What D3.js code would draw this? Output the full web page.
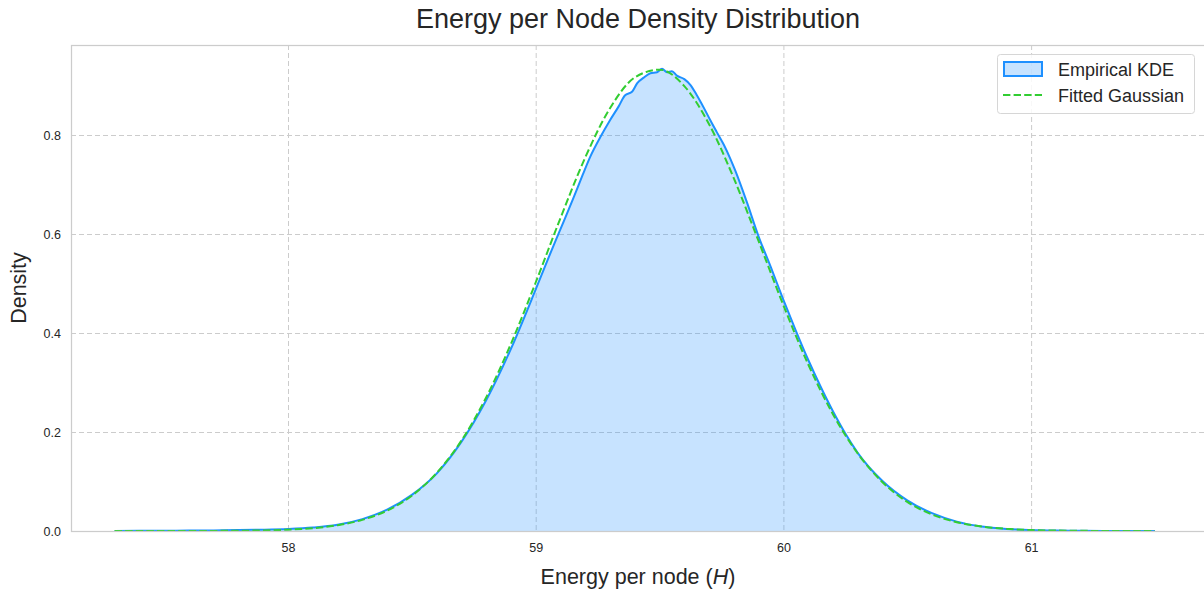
<!DOCTYPE html>
<html>
<head>
<meta charset="utf-8">
<script src="https://cdn.jsdelivr.net/npm/d3@7/dist/d3.min.js"></script>
<style>
  html, body { margin: 0; padding: 0; background: #ffffff; }
  svg { display: block; font-family: "Liberation Sans", Arial, "DejaVu Sans", sans-serif; }
</style>
</head>
<body>
<svg id="chart" width="1204" height="590"></svg>
<script>
// Empirical kernel density estimate of energy per node
const kdeX = [57.30, 57.40, 57.50, 57.60, 57.70, 57.80, 57.90, 58.00, 58.10, 58.20,
  58.30, 58.40, 58.50, 58.60, 58.70, 58.80, 58.90, 59.00, 59.05, 59.10,
  59.15, 59.19, 59.22, 59.26, 59.30, 59.335, 59.36, 59.39, 59.41, 59.436,
  59.463, 59.49, 59.51, 59.53, 59.55, 59.57, 59.60, 59.625, 59.65, 59.68,
  59.705, 59.73, 59.76, 59.785, 59.805, 59.85, 59.90, 59.95, 60.00, 60.05,
  60.10, 60.15, 60.20, 60.25, 60.30, 60.40, 60.50, 60.60, 60.70, 60.80,
  60.90, 61.00, 61.10, 61.20, 61.30, 61.40, 61.50];
const kdeY = [0.0000, 0.0003, 0.0005, 0.0008, 0.0012, 0.0018, 0.0027, 0.0042, 0.0070, 0.0125,
  0.0240, 0.0430, 0.0730, 0.1160, 0.1800, 0.2640, 0.3680, 0.4880, 0.5500, 0.6100,
  0.6700, 0.7200, 0.7560, 0.7950, 0.8300, 0.8580, 0.8800, 0.8880, 0.9050, 0.9160,
  0.9250, 0.9270, 0.9340, 0.9270, 0.9290, 0.9200, 0.9130, 0.9010, 0.8810, 0.8540,
  0.8300, 0.8070, 0.7800, 0.7530, 0.7290, 0.6680, 0.5950, 0.5320, 0.4670, 0.4050,
  0.3460, 0.2920, 0.2420, 0.1970, 0.1580, 0.1010, 0.0620, 0.0360, 0.0190, 0.0090,
  0.0042, 0.0020, 0.0009, 0.0004, 0.0002, 0.0001, 0.0000];

// Fitted normal curve, sampled on a regular grid
const fitX = [57.3, 57.4, 57.5, 57.6, 57.7, 57.8, 57.9, 58.0, 58.1, 58.2,
  58.3, 58.4, 58.5, 58.6, 58.7, 58.8, 58.9, 59.0, 59.1, 59.2,
  59.3, 59.4, 59.5, 59.6, 59.7, 59.8, 59.9, 60.0, 60.1, 60.2,
  60.3, 60.4, 60.5, 60.6, 60.7, 60.8, 60.9, 61.0, 61.1, 61.2,
  61.3, 61.4, 61.5];
const fitY = [0.0000, 0.0000, 0.0000, 0.0001, 0.0002, 0.0005, 0.0012, 0.0027, 0.0057, 0.0117,
  0.0225, 0.0411, 0.0713, 0.1172, 0.1826, 0.2699, 0.3781, 0.5021, 0.6323, 0.7547,
  0.8542, 0.9164, 0.9322, 0.8990, 0.8220, 0.7125, 0.5855, 0.4561, 0.3369, 0.2360,
  0.1567, 0.0986, 0.0588, 0.0333, 0.0178, 0.0091, 0.0044, 0.0020, 0.0009, 0.0004,
  0.0001, 0.0001, 0.0000];

const xTicks = [58, 59, 60, 61];
const yTicks = [0.0, 0.2, 0.4, 0.6, 0.8];
const seriesNames = ["Empirical KDE", "Fitted Gaussian"];

const W = 1204, H = 590;
const margin = { left: 71, right: 0, top: 45, bottom: 59 };
const svg = d3.select("#chart");

const x = d3.scaleLinear().domain([57.124, 61.698]).range([margin.left, W - margin.right]);
const y = d3.scaleLinear().domain([0, 0.982]).range([H - margin.bottom, margin.top]);

const kde = kdeX.map((v, i) => [v, kdeY[i]]);
const fit = fitX.map((v, i) => [v, fitY[i]]);

// grid
const grid = svg.append("g");
grid.selectAll("line.gx").data(xTicks).join("line")
  .attr("x1", d => x(d) + 0.5).attr("x2", d => x(d) + 0.5)
  .attr("y1", y.range()[1]).attr("y2", y.range()[0])
  .attr("stroke", "#cccccc").attr("stroke-width", 1).attr("stroke-dasharray", "5,3");
grid.selectAll("line.gy").data(yTicks.filter(d => d > 0)).join("line")
  .attr("x1", x.range()[0]).attr("x2", x.range()[1])
  .attr("y1", d => Math.round(y(d)) + 0.5).attr("y2", d => Math.round(y(d)) + 0.5)
  .attr("stroke", "#cccccc").attr("stroke-width", 1).attr("stroke-dasharray", "5,3");

// KDE fill and outline
svg.append("path").datum(kde)
  .attr("fill", "rgba(30,144,255,0.25)")
  .attr("d", d3.area().x(d => x(d[0])).y0(y(0)).y1(d => y(d[1])).curve(d3.curveMonotoneX));
svg.append("path").datum(kde)
  .attr("fill", "none").attr("stroke", "#1e90ff").attr("stroke-width", 2)
  .attr("stroke-linejoin", "round")
  .attr("d", d3.line().x(d => x(d[0])).y(d => y(d[1])).curve(d3.curveMonotoneX));

// fitted curve
svg.append("path").datum(fit)
  .attr("fill", "none").attr("stroke", "#32cd32").attr("stroke-width", 2)
  .attr("stroke-dasharray", "7.4,3.2")
  .attr("d", d3.line().x(d => x(d[0])).y(d => y(d[1])).curve(d3.curveMonotoneX));

// frame
svg.append("rect")
  .attr("x", x.range()[0] + 0.5).attr("y", y.range()[1] + 0.5)
  .attr("width", x.range()[1] - x.range()[0] + 2).attr("height", y.range()[0] - y.range()[1])
  .attr("fill", "none").attr("stroke", "#cccccc").attr("stroke-width", 1.25);

// axes
const xAxis = svg.append("g").attr("transform", `translate(0,${y.range()[0]})`)
  .call(d3.axisBottom(x).tickValues(xTicks).tickFormat(d3.format("d")).tickSize(0).tickPadding(12));
const yAxis = svg.append("g").attr("transform", `translate(${x.range()[0]},0)`)
  .call(d3.axisLeft(y).tickValues(yTicks).tickFormat(d3.format(".1f")).tickSize(0).tickPadding(10));
[xAxis, yAxis].forEach(g => {
  g.select(".domain").remove();
  g.selectAll("text").attr("fill", "#262626").attr("font-size", 12.5)
    .attr("font-family", "'Liberation Sans', Arial, sans-serif");
});

// titles
svg.append("text").attr("x", 638).attr("y", 28).attr("text-anchor", "middle")
  .attr("font-size", 27).attr("fill", "#262626").text("Energy per Node Density Distribution");
const xl = svg.append("text").attr("x", 638).attr("y", 584).attr("text-anchor", "middle")
  .attr("font-size", 21.5).attr("fill", "#262626");
xl.append("tspan").text("Energy per node (");
xl.append("tspan").attr("font-style", "italic").text("H");
xl.append("tspan").text(")");
svg.append("text").attr("transform", "translate(26,288) rotate(-90)").attr("text-anchor", "middle")
  .attr("font-size", 21.5).attr("fill", "#262626").text("Density");

// legend
const lg = svg.append("g").attr("transform", "translate(997,54)");
lg.append("rect").attr("x", 0.5).attr("y", 0.5).attr("width", 197).attr("height", 59).attr("rx", 3)
  .attr("fill", "rgba(255,255,255,0.85)").attr("stroke", "#d6d6d6");
lg.append("rect").attr("x", 7).attr("y", 8).attr("width", 38).attr("height", 14)
  .attr("fill", "rgba(30,144,255,0.25)").attr("stroke", "#1e90ff").attr("stroke-width", 2);
lg.append("line").attr("x1", 6).attr("x2", 45).attr("y1", 41).attr("y2", 41)
  .attr("stroke", "#32cd32").attr("stroke-width", 2).attr("stroke-dasharray", "7.4,3.2");
lg.selectAll("text.lt").data(seriesNames).join("text")
  .attr("x", 61).attr("y", (d, i) => 22 + i * 26)
  .attr("font-size", 18).attr("fill", "#262626").text(d => d);
</script>
</body>
</html>
